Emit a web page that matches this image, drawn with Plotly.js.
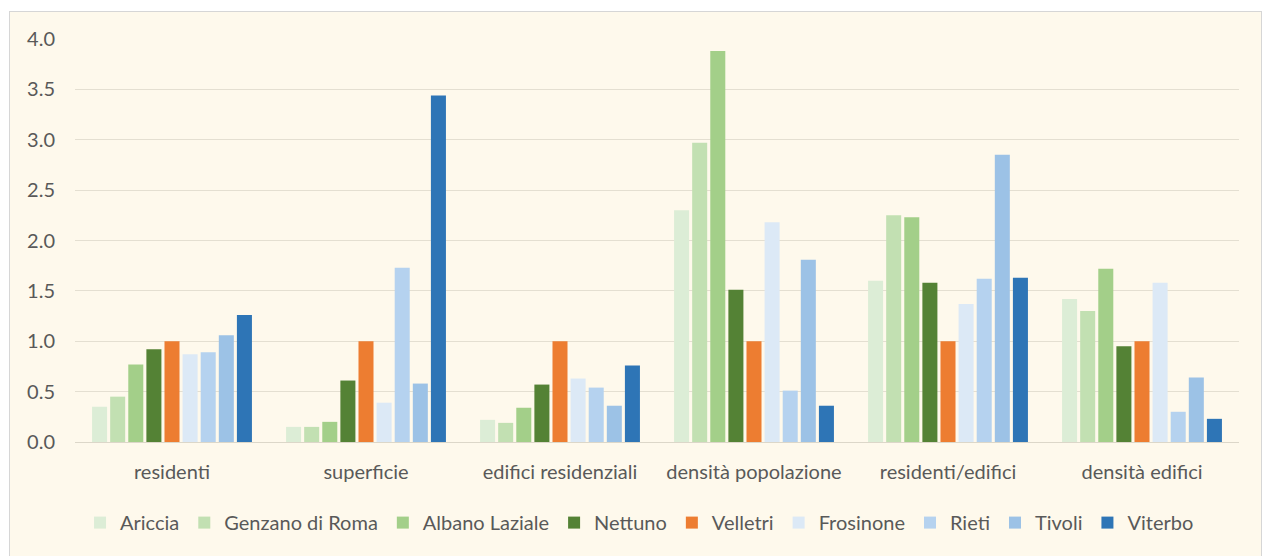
<!DOCTYPE html>
<html>
<head>
<meta charset="utf-8">
<script src="https://cdn.plot.ly/plotly-3.0.1.min.js"></script>
<style>
  html, body { margin: 0; padding: 0; background: #ffffff; overflow: hidden; }
  #frame {
    position: absolute; left: 9px; top: 11px;
    width: 1251px; height: 560px;
    border: 1px solid #d6d6d6;
    background: #fef9ec;
  }
  #chart { width: 1251px; height: 560px; }
</style>
</head>
<body>
<div id="frame"><div id="chart"></div></div>
<script>
// Indicators compared across municipalities (Velletri = 1.0)
const categories = ["residenti", "superficie", "edifici residenziali", "densità popolazione", "residenti/edifici", "densità edifici"];

const ariccia   = [0.35, 0.15, 0.22, 2.30, 1.60, 1.42];
const genzano   = [0.45, 0.15, 0.19, 2.97, 2.25, 1.30];
const albano    = [0.77, 0.20, 0.34, 3.88, 2.23, 1.72];
const nettuno   = [0.92, 0.61, 0.57, 1.51, 1.58, 0.95];
const velletri  = [1.00, 1.00, 1.00, 1.00, 1.00, 1.00];
const frosinone = [0.87, 0.39, 0.63, 2.18, 1.37, 1.58];
const rieti     = [0.89, 1.73, 0.54, 0.51, 1.62, 0.30];
const tivoli    = [1.06, 0.58, 0.36, 1.81, 2.85, 0.64];
const viterbo   = [1.26, 3.44, 0.76, 0.36, 1.63, 0.23];

const seriesNames = ["Ariccia", "Genzano di Roma", "Albano Laziale", "Nettuno", "Velletri", "Frosinone", "Rieti", "Tivoli", "Viterbo"];
const seriesValues = [ariccia, genzano, albano, nettuno, velletri, frosinone, rieti, tivoli, viterbo];
const seriesColors = ["#dcedd6", "#c2e0b2", "#a3cf89", "#548235", "#ed7d31", "#dce9f6", "#b5d2ef", "#9cc2e6", "#2e75b6"];

const traces = seriesNames.map((name, i) => ({
  type: "bar",
  name: name,
  x: categories,
  y: seriesValues[i],
  marker: { color: seriesColors[i], line: { width: 0 } },
  hoverinfo: "x+y+name"
}));

const font = "Lato, 'Open Sans', 'Liberation Sans', sans-serif";

const layout = {
  width: 1251,
  height: 560,
  margin: { l: 65, r: 22, t: 27, b: 130 },
  paper_bgcolor: "#fef9ec",
  plot_bgcolor: "#fef9ec",
  barmode: "group",
  bargap: 0.16,
  bargroupgap: 0.17,
  font: { family: font, color: "#595959", size: 20 },
  showlegend: true,
  legend: {
    orientation: "h",
    x: 0.485, xanchor: "center",
    y: -0.2, yanchor: "middle",
    font: { family: font, size: 20, color: "#595959" },
    itemwidth: 30,
    traceorder: "normal",
    bgcolor: "rgba(0,0,0,0)"
  },
  xaxis: {
    type: "category",
    showgrid: false,
    showline: false,
    zeroline: false,
    ticks: "outside",
    ticklen: 12,
    tickcolor: "rgba(0,0,0,0)",
    tickfont: { family: font, size: 20, color: "#595959" },
    fixedrange: true
  },
  yaxis: {
    range: [0, 4],
    dtick: 0.5,
    tickformat: ".1f",
    showgrid: true,
    gridcolor: "#e4dfd1",
    gridwidth: 1,
    zeroline: true,
    zerolinecolor: "#dcd7c9",
    zerolinewidth: 1,
    showline: false,
    ticks: "outside",
    ticklen: 15,
    tickcolor: "rgba(0,0,0,0)",
    tickfont: { family: font, size: 20, color: "#595959" },
    fixedrange: true
  }
};

Plotly.newPlot("chart", traces, layout, { displayModeBar: false, staticPlot: true });
</script>
</body>
</html>
